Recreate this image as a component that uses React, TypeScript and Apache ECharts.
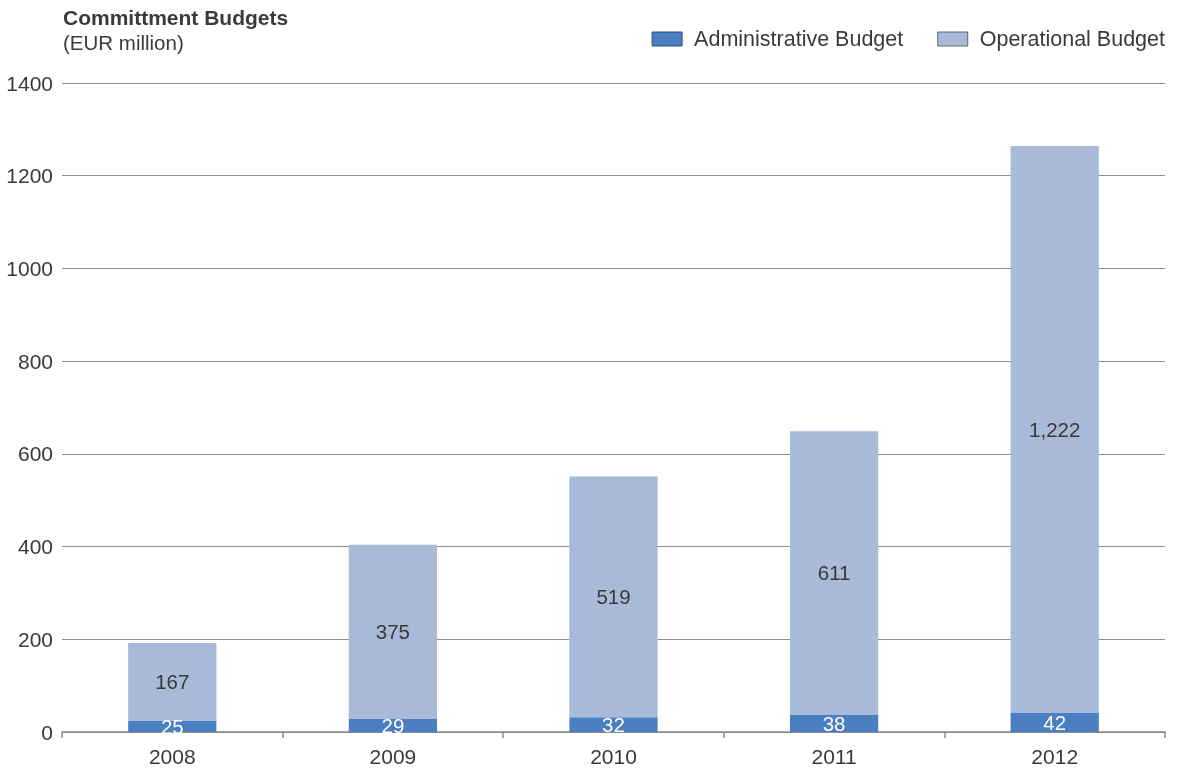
import React, { useEffect, useRef } from "react";
import * as echarts from "echarts";

const years = ["2008", "2009", "2010", "2011", "2012"];
const adminBudget = [25, 29, 32, 38, 42];
const operationalBudget = [167, 375, 519, 611, 1222];
const yTicks = [0, 200, 400, 600, 800, 1000, 1200, 1400];

const FONT = "'Liberation Sans', Arial, Helvetica, sans-serif";
const TEXT = "#3a3a3a";

export default function App() {
  const ref = useRef<HTMLDivElement>(null);
  useEffect(() => {
    if (!ref.current) return;
    const chart = echarts.init(ref.current, null, { renderer: "svg" });
    chart.setOption({
      animation: false,
      textStyle: { fontFamily: FONT },
      title: {
        text: "Committment Budgets",
        subtext: "(EUR million)",
        left: 58,
        top: 2,
        itemGap: 4,
        textStyle: { fontFamily: FONT, fontSize: 21, fontWeight: "bold", color: TEXT },
        subtextStyle: { fontFamily: FONT, fontSize: 20.5, color: TEXT },
      },
      legend: {
        right: 9,
        top: 23,
        icon: "rect",
        itemWidth: 30,
        itemHeight: 14,
        itemGap: 34,
        textStyle: { fontFamily: FONT, fontSize: 21.5, color: TEXT, padding: [0, 0, 0, 7] },
        data: [
          { name: "Administrative Budget", itemStyle: { borderColor: "#2d4f7d", borderWidth: 1 } },
          { name: "Operational Budget", itemStyle: { borderColor: "#5e6675", borderWidth: 1 } },
        ],
      },
      grid: { left: 62, right: 14, top: 83, bottom: 36, containLabel: false },
      xAxis: {
        type: "category",
        data: years,
        axisLine: { lineStyle: { color: "#8a8a8a", width: 1.5 } },
        axisTick: { show: true, length: 6, lineStyle: { color: "#8a8a8a", width: 1.5 } },
        axisLabel: { fontFamily: FONT, fontSize: 21, color: TEXT, margin: 14 },
      },
      yAxis: {
        type: "value",
        min: yTicks[0],
        max: yTicks[yTicks.length - 1],
        interval: 200,
        axisLine: { show: false },
        axisTick: { show: false },
        axisLabel: {
          fontFamily: FONT,
          fontSize: 21,
          color: TEXT,
          margin: 9,
          formatter: (v: number) => String(v),
        },
        splitLine: { lineStyle: { color: "#8f8f8f", width: 1 } },
      },
      series: [
        {
          name: "Administrative Budget",
          type: "bar",
          stack: "total",
          barWidth: "40%",
          data: adminBudget,
          itemStyle: { color: "#4a7fc1" },
          label: {
            show: true,
            position: "inside",
            color: "#ffffff",
            fontFamily: FONT,
            fontSize: 20.5,
          },
        },
        {
          name: "Operational Budget",
          type: "bar",
          stack: "total",
          barWidth: "40%",
          data: operationalBudget,
          itemStyle: { color: "#a9b9d8" },
          label: {
            show: true,
            position: "inside",
            color: TEXT,
            fontFamily: FONT,
            fontSize: 20.5,
            formatter: (p: any) => Number(p.value).toLocaleString("en-US"),
          },
        },
      ],
    });
    return () => chart.dispose();
  }, []);
  return (
    <div
      ref={ref}
      style={{ width: 1179, height: 768, position: "fixed", left: 0, top: 0 }}
    />
  );
}
